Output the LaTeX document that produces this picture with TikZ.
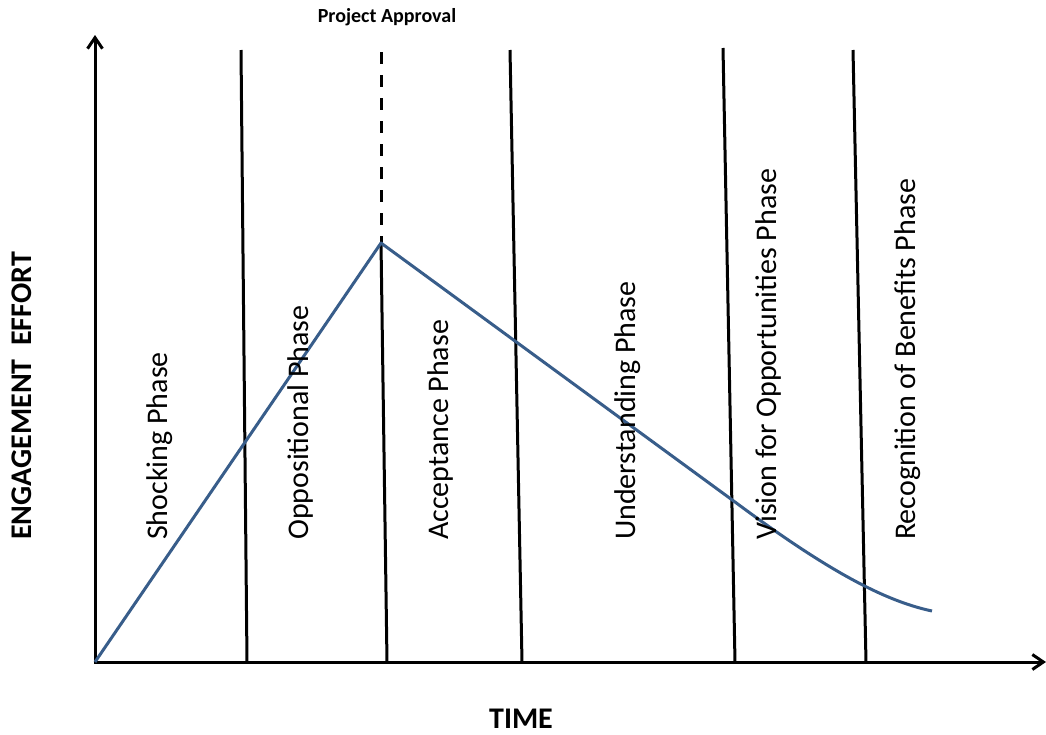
\documentclass[tikz,border=0pt]{standalone}
\usepackage{fontspec}
\setmainfont{Carlito}
\usepackage{tikz}
\usetikzlibrary{arrows.meta}
\definecolor{curveblue}{RGB}{56,93,138}

\tikzset{
  axis/.style={line width=3pt,-{Straight Barb[length=11pt,width=15pt,line width=3pt]}},
  divider/.style={line width=3pt},
  phase/.style={rotate=90,anchor=west,inner sep=0pt,font=\fontsize{30}{36}\selectfont},
  axislabel/.style={inner sep=0pt,font=\bfseries\fontsize{30}{36}\selectfont},
}

\begin{document}
\begin{tikzpicture}[x=1pt,y=-1pt]
\useasboundingbox (0,0) rectangle (1046,734);
% Axes
\coordinate (origin) at (95,662);
\coordinate (ytip) at (95,35);
\coordinate (xtip) at (1046,662);
\draw[axis] (93.5,662) -- (xtip);
\draw[axis] (origin) -- (ytip);
% Phase boundaries
\coordinate (b1top) at (241,50);
\coordinate (b1bot) at (247,662);
\coordinate (b2top) at (381,52);
\coordinate (peak) at (381,243);
\coordinate (b2bot) at (387,662);
\coordinate (b3top) at (510,50);
\coordinate (b3bot) at (522,662);
\coordinate (b4top) at (723,48);
\coordinate (b4bot) at (735,662);
\coordinate (b5top) at (853,50);
\coordinate (b5bot) at (866,662);
\draw[divider] (b1top) -- (b1bot);
\draw[divider,dash pattern=on 12pt off 11pt] (b2top) -- (peak);
\draw[divider] (peak) -- (b2bot);
\draw[divider] (b3top) -- (b3bot);
\draw[divider] (b4top) -- (b4bot);
\draw[divider] (b5top) -- (b5bot);
% Engagement curve
\coordinate (bend) at (735,502);
\coordinate (tail) at (932,611);
\draw[curveblue,line width=3pt,line join=round] (origin) -- (peak) -- (bend)
  .. controls (820,565) and (880,600) .. (tail);
% Phase labels
\node[phase] (shocking) at (160,540) {Shocking Phase};
\node[phase] (oppositional) at (300,540) {Oppositional Phase};
\node[phase] (acceptance) at (440,540) {Acceptance Phase};
\node[phase] (understanding) at (628,540) {Understanding Phase};
\node[phase] (vision) at (768,540) {Vision for Opportunities Phase};
\node[phase] (recognition) at (908,540) {Recognition of Benefits Phase};
% Axis titles
\node[axislabel,rotate=90] (effort) at (22,396) {ENGAGEMENT\ \ EFFORT};
\node[axislabel] (time) at (521,719) {TIME};
\node[inner sep=0pt,font=\bfseries\fontsize{20}{24}\selectfont] (approval) at (387,17) {Project Approval};
\end{tikzpicture}
\end{document}
